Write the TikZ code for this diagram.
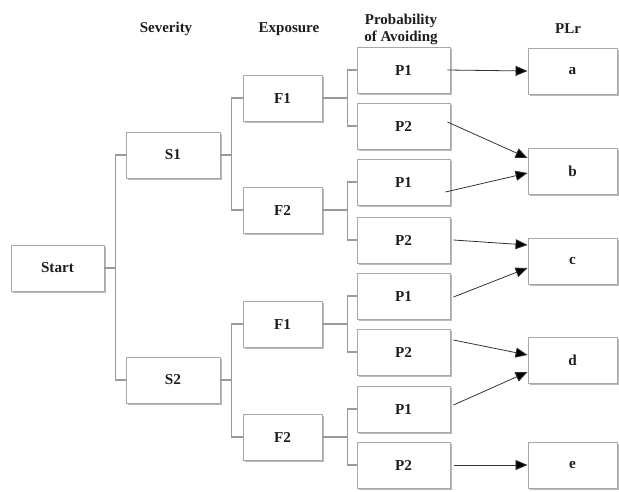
\documentclass[tikz,border=0pt]{standalone}
\usepackage{fontspec}
\setmainfont{Liberation Serif}
\usetikzlibrary{arrows.meta,shadows}
\definecolor{boxline}{HTML}{A8A8A8}
\definecolor{conn}{HTML}{9A9A9A}
\definecolor{txt}{HTML}{1E1E1E}
\begin{document}
\begin{tikzpicture}[x=1pt,y=-1pt,
  box/.style={draw=boxline, line width=0.9pt, fill=white, minimum height=46pt,
    inner sep=0pt, text=txt, font=\bfseries\fontsize{15.2}{17}\selectfont,
    drop shadow={shadow xshift=2pt, shadow yshift=-2pt, opacity=0.45, fill=black!60}},
  head/.style={text=txt, font=\bfseries\fontsize{15}{17}\selectfont, align=center, inner sep=0pt},
  elbow/.style={draw=conn, line width=1.3pt},
  arr/.style={draw=black!80, line width=0.8pt, -{Triangle[length=12pt,width=10pt,fill=black]}}
]
\useasboundingbox (0,0) rectangle (619,491);

% headers
\node[head] (hS) at (166,29) {Severity};
\node[head] (hF) at (289,29) {Exposure};
\node[head] (hP) at (401,29.5) {Probability\\of Avoiding};
\node[head] (hL) at (568,29) {PLr};

% boxes
\node[box, minimum width=93pt] (start) at (57.5,268) {Start};
\node[box, minimum width=94pt] (s1) at (173,155) {S1};
\node[box, minimum width=94pt] (s2) at (173,380) {S2};

\node[box, minimum width=79pt] (f1a) at (282.5,98) {F1};
\node[box, minimum width=79pt] (f2a) at (282.5,210) {F2};
\node[box, minimum width=79pt] (f1b) at (282.5,324) {F1};
\node[box, minimum width=79pt] (f2b) at (282.5,437) {F2};

\node[box, minimum width=93pt] (p1) at (403.5,70) {P1};
\node[box, minimum width=93pt] (p2) at (403.5,126) {P2};
\node[box, minimum width=93pt] (p3) at (403.5,182) {P1};
\node[box, minimum width=93pt] (p4) at (403.5,240) {P2};
\node[box, minimum width=93pt] (p5) at (403.5,296) {P1};
\node[box, minimum width=93pt] (p6) at (403.5,352) {P2};
\node[box, minimum width=93pt] (p7) at (403.5,409) {P1};
\node[box, minimum width=93pt] (p8) at (403.5,465) {P2};

\node[box, minimum width=89pt] (la) at (572.5,71) {a};
\node[box, minimum width=89pt] (lb) at (572.5,171) {b};
\node[box, minimum width=89pt] (lc) at (572.5,261) {c};
\node[box, minimum width=89pt] (ld) at (572.5,360) {d};
\node[box, minimum width=89pt] (le) at (572.5,465) {e};

% elbow connectors
\foreach \a/\b in {start/s1,start/s2}
  \draw[elbow] (\a.east) -- ++(11,0) |- (\b.west);
\foreach \a/\b in {s1/f1a,s1/f2a,s2/f1b,s2/f2b}
  \draw[elbow] (\a.east) -- ++(11,0) |- (\b.west);
\foreach \a/\b in {f1a/p1,f1a/p2,f2a/p3,f2a/p4,f1b/p5,f1b/p6,f2b/p7,f2b/p8}
  \draw[elbow] (\a.east) -- ++(25,0) |- (\b.west);

% arrows
\draw[arr] ([xshift=-3pt]p1.east) -- (la.west);
\draw[arr] ([xshift=-3pt,yshift=4pt]p2.east) -- ([yshift=13pt]lb.west);
\draw[arr] ([xshift=-5pt,yshift=-10pt]p3.east) -- ([yshift=-2pt]lb.west);
\draw[arr] ([xshift=3pt]p4.east) -- ([yshift=16pt]lc.west);
\draw[arr] ([xshift=3pt,yshift=-1pt]p5.east) -- ([yshift=-7pt]lc.west);
\draw[arr] ([xshift=3pt,yshift=12pt]p6.east) -- ([yshift=5pt]ld.west);
\draw[arr] ([xshift=3pt,yshift=4pt]p7.east) -- ([yshift=-12pt]ld.west);
\draw[arr] ([xshift=4pt]p8.east) -- (le.west);
\end{tikzpicture}
\end{document}
